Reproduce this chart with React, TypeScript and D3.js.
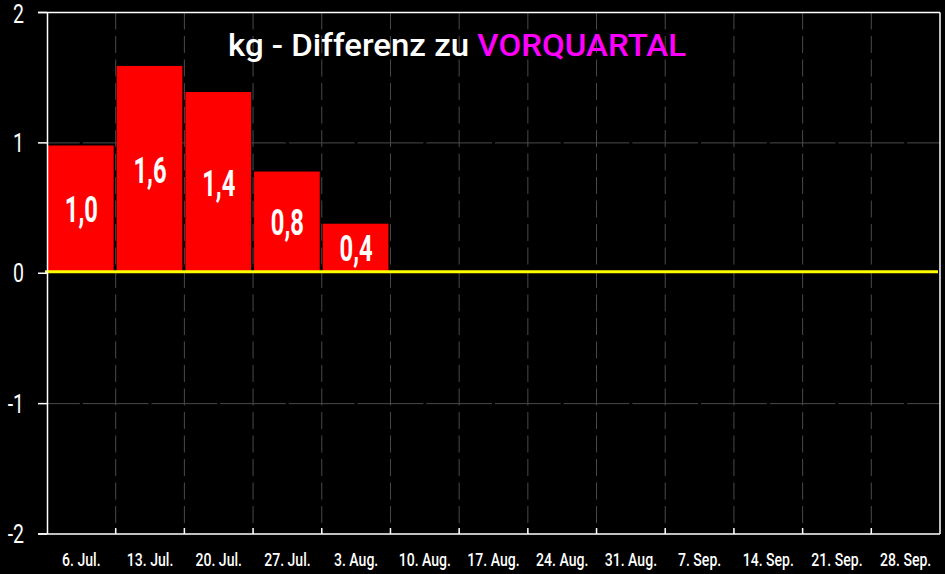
import React from 'react'
import * as d3 from 'd3'

// weekly categories on the x axis
const weeks = [
  '6. Jul.', '13. Jul.', '20. Jul.', '27. Jul.', '3. Aug.', '10. Aug.', '17. Aug.',
  '24. Aug.', '31. Aug.', '7. Sep.', '14. Sep.', '21. Sep.', '28. Sep.'
]
// kg difference to previous quarter (only first weeks have data)
const diffValues = [0.98, 1.59, 1.39, 0.78, 0.38]
const yTicks = [-2, -1, 0, 1, 2]
const gridTicks = [-1, 1]
const titleMain = 'kg - Differenz zu '
const titleAccent = 'VORQUARTAL'

const W = 945
const H = 574
const margin = { top: 12.5, right: 5, bottom: 40, left: 47 }
const FONT = 'Roboto, "DejaVu Sans", sans-serif'

const fmt = (v: number) => d3.format('.1f')(v).replace('.', ',')

export default function App() {
  const x = d3.scaleBand<string>()
    .domain(weeks)
    .range([margin.left, W - margin.right])
    .padding(0)

  const y = d3.scaleLinear()
    .domain([-2, 2])
    .range([H - margin.bottom, margin.top])

  const bw = x.bandwidth()
  const x0 = margin.left
  const x1 = W - margin.right
  const yTop = y(2)
  const yBottom = y(-2)

  return (
    <svg
      width={W}
      height={H}
      style={{ position: 'fixed', left: 0, top: 0, background: '#000', display: 'block' }}
    >
      <rect x={0} y={0} width={W} height={H} fill='#000' />

      {/* vertical dashed grid at band boundaries */}
      {weeks.slice(1).map(w => (
        <line
          key={'vg' + w}
          x1={x(w)!}
          x2={x(w)!}
          y1={yTop}
          y2={yBottom}
          stroke='#4a4a4a'
          strokeWidth={1}
          strokeDasharray='17 6.5'
        />
      ))}

      {/* horizontal grid */}
      {gridTicks.map(t => (
        <line
          key={'hg' + t}
          x1={x0}
          x2={x1}
          y1={y(t)}
          y2={y(t)}
          stroke='#4a4a4a'
          strokeWidth={1}
          strokeDasharray={`${bw - 3} 3`}
          strokeDashoffset={bw / 2 - 1.5}
        />
      ))}

      {/* bars */}
      {diffValues.map((v, i) => {
        const bx = x(weeks[i])!
        const top = y(Math.max(0, v))
        const bot = y(Math.min(0, v)) - 2
        return (
          <rect
            key={'b' + i}
            x={bx + 1}
            y={top}
            width={bw - 3}
            height={bot - top}
            fill='#ff0000'
          />
        )
      })}

      {/* bar value labels */}
      {diffValues.map((v, i) => {
        const cx = x(weeks[i])! + bw / 2
        const cy = (y(v) + y(0)) / 2
        return (
          <text
            key={'bl' + i}
            transform={`translate(${cx},${cy + 13}) scale(0.66,1)`}
            textAnchor='middle'
            fill='#fff'
            fontFamily={FONT}
            fontWeight={700}
            fontSize={36}
          >
            {fmt(v)}
          </text>
        )
      })}

      {/* zero line */}
      <line x1={x0 - 2} x2={x1 - 2} y1={y(0) - 1.5} y2={y(0) - 1.5} stroke='#ffff00' strokeWidth={3} />

      {/* frame */}
      <line x1={38} x2={x1} y1={yTop} y2={yTop} stroke='#fff' strokeWidth={1.5} />
      <line x1={38} x2={x1} y1={yBottom} y2={yBottom} stroke='#fff' strokeWidth={1.5} />
      <line x1={x0 + 0.5} x2={x0 + 0.5} y1={yTop} y2={yBottom} stroke='#fff' strokeWidth={1.5} />
      <line x1={x1} x2={x1} y1={yTop} y2={yBottom} stroke='#fff' strokeWidth={1.5} />

      {/* y ticks */}
      {yTicks.map(t => (
        <g key={'yt' + t}>
          <line x1={38} x2={x0} y1={y(t)} y2={y(t)} stroke='#fff' strokeWidth={1.5} />
          <text
            transform={`translate(24,${Math.max(y(t) + 9, 23)}) scale(0.75,1)`}
            textAnchor='end'
            fill='#fff'
            fontFamily={FONT}
            fontWeight={400}
            fontSize={26}
          >
            {t}
          </text>
        </g>
      ))}

      {/* x ticks */}
      {weeks.slice(1).map(w => (
        <line
          key={'xt' + w}
          x1={x(w)!}
          x2={x(w)!}
          y1={yBottom - 6}
          y2={yBottom}
          stroke='#fff'
          strokeWidth={1.5}
        />
      ))}
      {weeks.map(w => (
        <text
          key={'xl' + w}
          transform={`translate(${x(w)! + bw / 2},565.5) scale(0.76,1)`}
          textAnchor='middle'
          fill='#fff'
          fontFamily={FONT}
          fontWeight={500}
          fontSize={18.5}
        >
          {w}
        </text>
      ))}

      {/* title */}
      <text
        x={228}
        y={55.5}
        fontFamily={FONT}
        fontWeight={500}
        fontSize={31.5}
        textLength={458}
        lengthAdjust='spacingAndGlyphs'
      >
        <tspan fill='#fff'>{titleMain}</tspan>
        <tspan fill='#ff00ff'>{titleAccent}</tspan>
      </text>
    </svg>
  )
}
